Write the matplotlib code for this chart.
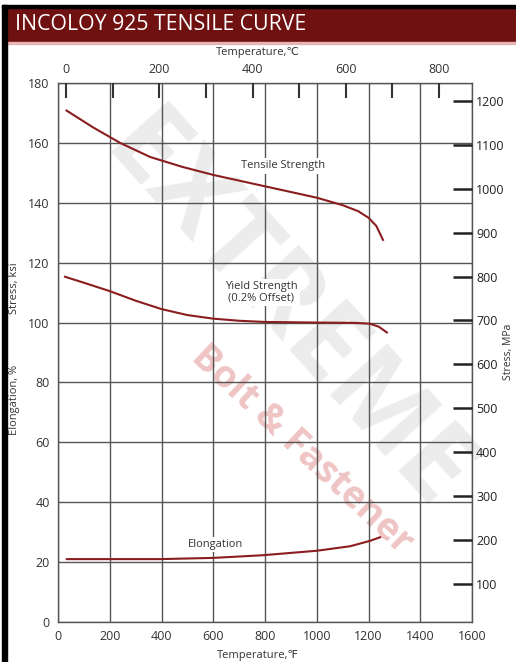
import matplotlib
matplotlib.use("Agg")
import matplotlib.pyplot as plt
import matplotlib.patches as mpatches

plt.rcParams['font.family'] = ['Open Sans', 'DejaVu Sans']

# ---- data ----
tensile_F = [33, 135, 240, 356, 480, 600, 800, 1000, 1100, 1160, 1200, 1230, 1256]
tensile_ksi = [170.8, 165.2, 160.0, 155.3, 152.0, 149.3, 145.5, 141.7, 139.2, 137.2, 135.0, 132.3, 127.6]

yield_F = [27, 100, 200, 300, 400, 500, 600, 700, 800, 1000, 1150, 1206, 1240, 1271]
yield_ksi = [115.3, 113.3, 110.5, 107.3, 104.5, 102.5, 101.3, 100.6, 100.2, 100.0, 99.9, 99.6, 98.6, 96.7]

elong_F = [34, 201, 394, 599, 792, 1001, 1129, 1206, 1245]
elong_pct = [21.0, 21.0, 21.0, 21.4, 22.3, 23.8, 25.3, 27.1, 28.3]

x_ticks_F = [0, 200, 400, 600, 800, 1000, 1200, 1400, 1600]
y_ticks_ksi = [0, 20, 40, 60, 80, 100, 120, 140, 160, 180]
top_ticks_C = [0, 100, 200, 300, 400, 500, 600, 700, 800]
top_labels_C = ['0', '', '200', '', '400', '', '600', '', '800']
right_ticks_MPa = [100, 200, 300, 400, 500, 600, 700, 800, 900, 1000, 1100, 1200]

W, H = 516, 662
fig = plt.figure(figsize=(W / 100, H / 100), dpi=100)

# frame and title bar
fig.patches.append(mpatches.Rectangle((2 / W, 0), 5 / W, 1 - 5 / H, transform=fig.transFigure,
                                      color='black', zorder=5))
fig.patches.append(mpatches.Rectangle((2 / W, 1 - 8 / H), 1, 3 / H, transform=fig.transFigure,
                                      color='black', zorder=5))
fig.patches.append(mpatches.Rectangle((7 / W, 1 - 42 / H), 1, 34 / H, transform=fig.transFigure,
                                      color='#6f1111', zorder=4))
fig.patches.append(mpatches.Rectangle((7 / W, 1 - 44 / H), 1, 2 / H, transform=fig.transFigure,
                                      color='#e6b4b4', zorder=4))
fig.text(15 / W, 1 - 25 / H, 'INCOLOY 925 TENSILE CURVE', color='white', fontsize=15.3,
         ha='left', va='center', zorder=6)

ax = fig.add_axes([58 / W, 1 - 622 / H, (472 - 58) / W, (622 - 83) / H])
ax.set_facecolor('none')
ax.set_xlim(0, 1600)
ax.set_ylim(0, 180)
ax.set_xticks(x_ticks_F)
ax.set_yticks(y_ticks_ksi)
ax.grid(True, color='#555555', linewidth=1.0)
ax.set_axisbelow(True)
for s in ax.spines.values():
    s.set_color('#555555')
    s.set_linewidth(1.0)
ax.tick_params(axis='both', length=0, labelsize=9, colors='#333333', pad=6)

# watermark
ax.text(0.55, 0.57, 'EXTREME', transform=ax.transAxes, rotation=-48, fontsize=78,
        fontweight='bold', color='#ececec', ha='center', va='center', zorder=0.1)
ax.text(0.59, 0.32, 'Bolt & Fastener', transform=ax.transAxes, rotation=-43, fontsize=27,
        fontweight='bold', color='#efc4c4', ha='center', va='center', zorder=0.2)

curve_color = '#8b1c1f'
ax.plot(tensile_F, tensile_ksi, color=curve_color, lw=1.5, zorder=3)
ax.plot(yield_F, yield_ksi, color=curve_color, lw=1.5, zorder=3)
ax.plot(elong_F, elong_pct, color=curve_color, lw=1.5, zorder=3)

box = dict(facecolor='white', edgecolor='none', pad=1.5)
ax.text(870, 152.3, 'Tensile Strength', fontsize=8, ha='center', va='center', color='#333333',
        bbox=box, zorder=2)
ax.text(785, 110.2, 'Yield Strength\n(0.2% Offset)', fontsize=8, ha='center', va='center',
        color='#333333', bbox=box, zorder=2, linespacing=1.1)
ax.text(607, 26, 'Elongation', fontsize=8, ha='center', va='center', color='#333333',
        bbox=box, zorder=2)

# top Celsius axis
axt = ax.twiny()
axt.set_xlim((0 - 32) * 5 / 9, (1600 - 32) * 5 / 9)
axt.set_xticks(top_ticks_C)
axt.set_xticklabels(top_labels_C)
axt.tick_params(axis='x', direction='in', length=11, width=1.5, colors='#333333',
                labelsize=9, pad=5)
for s in axt.spines.values():
    s.set_visible(False)

# right MPa axis
axr = ax.twinx()
axr.set_ylim(13, 1241)
axr.set_yticks(right_ticks_MPa)
axr.tick_params(axis='y', direction='in', length=14, width=1.8, colors='#222222',
                labelsize=9, pad=3)
for s in axr.spines.values():
    s.set_visible(False)

# axis titles
fig.text(258 / W, 1 - 52 / H, 'Temperature,℃', fontsize=8, ha='center', va='center', color='#333333')
fig.text(258 / W, 1 - 655 / H, 'Temperature,℉', fontsize=8, ha='center', va='center', color='#333333')
fig.text(14 / W, 1 - 288 / H, 'Stress, ksi', fontsize=8, rotation=90, ha='center', va='center', color='#333333')
fig.text(14 / W, 1 - 400 / H, 'Elongation, %', fontsize=8, rotation=90, ha='center', va='center', color='#333333')
fig.text(508 / W, 1 - 352 / H, 'Stress, MPa', fontsize=7.5, rotation=90, ha='center', va='center', color='#333333')

fig.savefig('out.png', dpi=100)
